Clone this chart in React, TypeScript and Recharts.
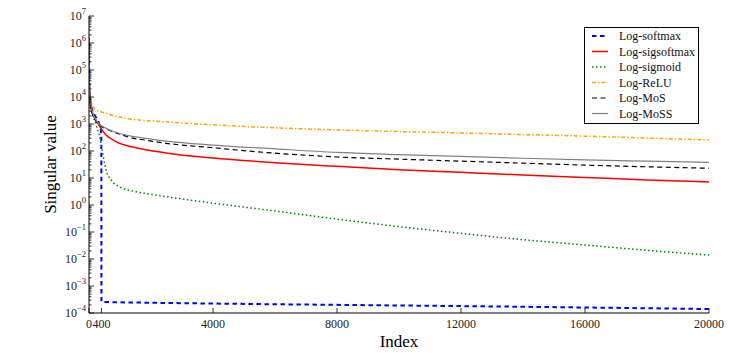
import React from 'react';
import { LineChart, Line, XAxis, YAxis, Legend } from 'recharts';

const FONT = '"Liberation Serif", "DejaVu Serif", serif';

// x tick labels (index) and decades of the log y axis
const xTicks = [0, 400, 4000, 8000, 12000, 16000, 20000];
const yMajorTicks = [1e-4, 1e-3, 1e-2, 1e-1, 1, 1e1, 1e2, 1e3, 1e4, 1e5, 1e6, 1e7];

// values (index -> singular value)
const softmaxIdx = [1, 5, 15, 40, 100, 200, 330, 380, 398, 402, 2000, 4000, 8000, 12000, 16000, 20000];
const softmaxVal = [1e6, 1e5, 2e4, 7.1e3, 3.5e3, 2e3, 1e3, 630, 316, 2.6e-4, 2.4e-4, 2.24e-4, 2e-4, 1.8e-4, 1.6e-4, 1.4e-4];

const sigsoftmaxIdx = [1, 5, 15, 40, 100, 226, 387, 548, 870, 1516, 2484, 4000, 6000, 8000, 10000, 12000, 14000, 16000, 18000, 20000];
const sigsoftmaxVal = [1.6e6, 1e5, 2e4, 7.1e3, 2.5e3, 1400, 690, 390, 224, 132, 85, 55, 37, 27, 20.4, 16.2, 12.9, 10.5, 8.5, 7.1];

const sigmoidIdx = [1, 5, 15, 40, 100, 250, 330, 387, 461, 548, 710, 977, 1516, 2055, 2484, 4000, 6000, 8000, 10000, 12000, 14000, 16000, 18000, 20000];
const sigmoidVal = [1e6, 1e5, 2e4, 7.1e3, 2.8e3, 794, 398, 190, 62, 20, 8.5, 4.8, 3.1, 2.45, 2.04, 1.17, 0.6, 0.3, 0.158, 0.089, 0.052, 0.033, 0.021, 0.014];

const reluIdx = [1, 5, 15, 40, 226, 400, 1194, 2484, 4000, 6000, 8000, 10000, 12000, 14000, 16000, 18000, 20000];
const reluVal = [1.26e6, 1e5, 2e4, 7.9e3, 3.3e3, 2.8e3, 1.62e3, 1.2e3, 933, 724, 603, 525, 468, 407, 355, 302, 257];

const mosIdx = [1, 5, 15, 40, 100, 200, 330, 600, 1000, 1320, 1840, 2484, 4000, 6000, 8000, 10000, 12000, 14000, 16000, 18000, 20000];
const mosVal = [1e6, 1e5, 2e4, 7.1e3, 2.8e3, 1410, 933, 631, 417, 316, 251, 193, 132, 83, 60, 50, 42, 35.5, 30, 26, 23];

const mossIdx = [1, 5, 15, 40, 100, 200, 330, 548, 1194, 1840, 2484, 4000, 6000, 8000, 10000, 12000, 14000, 16000, 18000, 20000];
const mossVal = [1e6, 1e5, 2e4, 7.1e3, 3.16e3, 1580, 1000, 692, 389, 295, 234, 166, 120, 89, 74, 63, 54, 47, 42, 38];

const toPoints = (idx: number[], val: number[]) => idx.map((x, i) => ({ x, y: val[i] }));

const series = [
  { name: 'Log-softmax', data: toPoints(softmaxIdx, softmaxVal), color: '#0000ff', width: 2, dash: '4.5 3.5' },
  { name: 'Log-sigsoftmax', data: toPoints(sigsoftmaxIdx, sigsoftmaxVal), color: '#ff0000', width: 1.5, dash: undefined },
  { name: 'Log-sigmoid', data: toPoints(sigmoidIdx, sigmoidVal), color: '#008000', width: 1.5, dash: '1.5 2.5' },
  { name: 'Log-ReLU', data: toPoints(reluIdx, reluVal), color: '#ffa500', width: 1.5, dash: '4 2 1.5 2' },
  { name: 'Log-MoS', data: toPoints(mosIdx, mosVal), color: '#000000', width: 1.2, dash: '5 3.5' },
  { name: 'Log-MoSS', data: toPoints(mossIdx, mossVal), color: '#808080', width: 1.2, dash: undefined },
];

const yTicks: number[] = [];
yMajorTicks.forEach((t, i) => {
  yTicks.push(t);
  if (i < yMajorTicks.length - 1) for (let k = 2; k <= 9; k++) yTicks.push(t * k);
});

const isMajor = (v: number) => Math.abs(Math.log10(v) - Math.round(Math.log10(v))) < 1e-6;

const LeftTick = (props: any) => {
  const { x, y, payload } = props;
  const v = payload.value;
  const major = isMajor(v);
  const exp = Math.round(Math.log10(v));
  return (
    <g>
      <line x1={x} x2={x + (major ? 5 : 2.5)} y1={y} y2={y} stroke="#000" strokeWidth={0.8} />
      {major && (
        <text x={x - 3} y={y + 4} textAnchor="end" fontFamily={FONT} fontSize={12} fill="#222">
          10
          <tspan dy={-6} fontSize={8.5}>{exp < 0 ? '\u2212' + -exp : String(exp)}</tspan>
        </text>
      )}
    </g>
  );
};

const RightTick = (props: any) => {
  const { x, y, payload } = props;
  const major = isMajor(payload.value);
  return <line x1={x} x2={x - (major ? 5 : 2.5)} y1={y} y2={y} stroke="#000" strokeWidth={0.8} />;
};

const BottomTick = (props: any) => {
  const { x, y, payload } = props;
  return (
    <g>
      <line x1={x} x2={x} y1={y} y2={y - 5} stroke="#000" strokeWidth={0.8} />
      <text x={x} y={y + 15} textAnchor="middle" fontFamily={FONT} fontSize={12} fill="#222">
        {payload.value}
      </text>
    </g>
  );
};

const TopTick = (props: any) => {
  const { x, y } = props;
  return <line x1={x} x2={x} y1={y} y2={y + 5} stroke="#000" strokeWidth={0.8} />;
};

const LegendBox = () => (
  <svg width={115} height={97} style={{ display: 'block' }}>
    <rect x={0.5} y={0.5} width={114} height={96} fill="#fff" stroke="#000" strokeWidth={1} />
    {series.map((s, i) => {
      const cy = 9 + 15.5 * i;
      return (
        <g key={s.name}>
          <line x1={8} x2={24} y1={cy} y2={cy} stroke={s.color} strokeWidth={s.width} strokeDasharray={s.dash} />
          <text x={35} y={cy + 4} fontFamily={FONT} fontSize={12} fill="#111">
            {s.name}
          </text>
        </g>
      );
    })}
  </svg>
);

export default function App() {
  return (
    <div style={{ position: 'absolute', left: 0, top: 0 }}>
      <LineChart width={752} height={358} margin={{ top: 16, right: 43, left: 29, bottom: 0 }}>
        <XAxis
          dataKey="x"
          type="number"
          domain={[0, 20000]}
          ticks={xTicks}
          interval={0}
          tickSize={0}
          tickMargin={0}
          height={45}
          tick={<BottomTick />}
          axisLine={{ stroke: '#000', strokeWidth: 1 }}
          allowDataOverflow
          label={{ value: 'Index', position: 'insideBottom', offset: 11, fontFamily: FONT, fontSize: 17, fill: '#000' }}
        />
        <XAxis
          xAxisId="top"
          orientation="top"
          type="number"
          domain={[0, 20000]}
          ticks={xTicks}
          interval={0}
          tickSize={0}
          tickMargin={0}
          height={0}
          tick={<TopTick />}
          axisLine={{ stroke: '#000', strokeWidth: 1 }}
          allowDataOverflow
        />
        <YAxis
          type="number"
          scale="log"
          domain={[1e-4, 1e7]}
          ticks={yTicks}
          interval={0}
          tickSize={0}
          tickMargin={0}
          width={60}
          tick={<LeftTick />}
          axisLine={{ stroke: '#000', strokeWidth: 1 }}
          allowDataOverflow
          label={{
            value: 'Singular value',
            angle: -90,
            position: 'insideLeft',
            offset: 21,
            style: { textAnchor: 'middle' },
            fontFamily: FONT,
            fontSize: 17,
            fill: '#000',
          }}
        />
        <YAxis
          yAxisId="right"
          orientation="right"
          type="number"
          scale="log"
          domain={[1e-4, 1e7]}
          ticks={yTicks}
          interval={0}
          tickSize={0}
          tickMargin={0}
          width={0}
          tick={<RightTick />}
          axisLine={{ stroke: '#000', strokeWidth: 1 }}
          allowDataOverflow
        />
        {series.map((s) => (
          <Line
            key={s.name}
            data={s.data}
            dataKey="y"
            name={s.name}
            type="monotone"
            stroke={s.color}
            strokeWidth={s.width}
            strokeDasharray={s.dash}
            dot={false}
            activeDot={false}
            isAnimationActive={false}
          />
        ))}
        <Legend
          layout="vertical"
          align="center"
          verticalAlign="middle"
          wrapperStyle={{ left: 584, top: 27, width: 115, height: 97 }}
          content={<LegendBox />}
        />
      </LineChart>
    </div>
  );
}
